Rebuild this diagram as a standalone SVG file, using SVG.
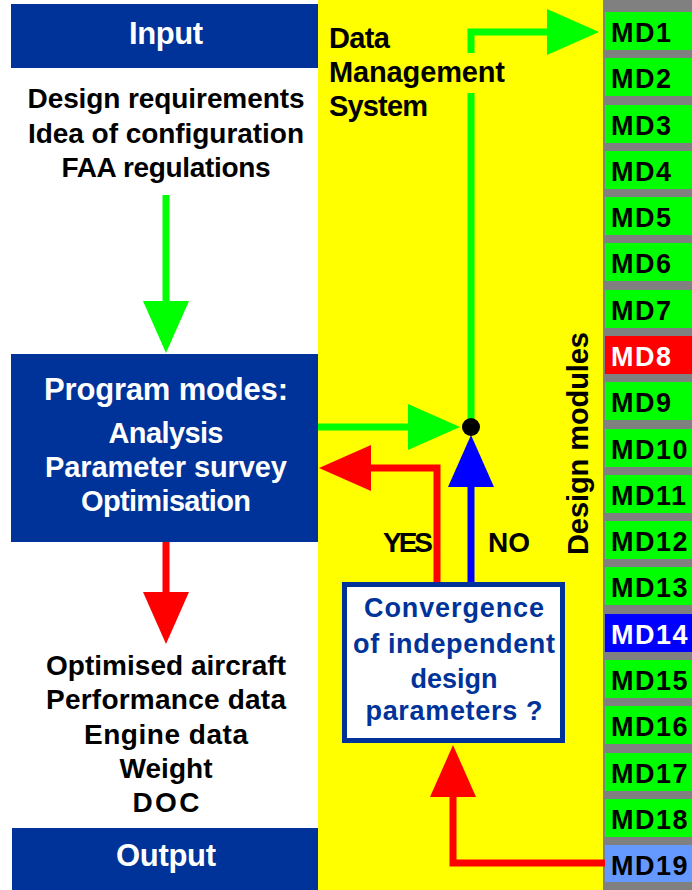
<svg xmlns="http://www.w3.org/2000/svg" width="692" height="890" viewBox="0 0 692 890">
<style>
  text { font-family: "Liberation Sans", Arial, sans-serif; font-weight: bold; }
  .title { font-size: 31px; fill: #ffffff; text-anchor: middle; }
  .sub { font-size: 29px; }
  .body { font-size: 28px; fill: #000000; text-anchor: middle; }
  .dms { font-size: 29px; fill: #000000; }
  .conv { font-size: 27px; fill: #003399; text-anchor: middle; }
  .md { font-size: 27px; letter-spacing: 1.5px; fill: #000000; }
  .mdw { fill: #ffffff; }
  .darkbox { fill: #003399; }
  .g { fill: none; stroke: #00ff00; stroke-width: 7; }
  .r { fill: none; stroke: #ff0000; stroke-width: 7; }
  .b { fill: none; stroke: #0000ff; stroke-width: 7; }
  .mod { fill: #00ff00; }
</style>
<defs>
  <marker id="ag" markerUnits="userSpaceOnUse" markerWidth="52" markerHeight="46" refX="0" refY="23" orient="auto" overflow="visible"><path d="M0,0 L52,23 L0,46 Z" fill="#00ff00"/></marker>
  <marker id="ar" markerUnits="userSpaceOnUse" markerWidth="52" markerHeight="46" refX="0" refY="23" orient="auto" overflow="visible"><path d="M0,0 L52,23 L0,46 Z" fill="#ff0000"/></marker>
  <marker id="ab" markerUnits="userSpaceOnUse" markerWidth="52" markerHeight="46" refX="0" refY="23" orient="auto" overflow="visible"><path d="M0,0 L52,23 L0,46 Z" fill="#0000ff"/></marker>
</defs>
<rect x="0" y="0" width="692" height="890" fill="#ffffff"/>
<rect x="318" y="0" width="285" height="890" fill="#ffff00"/>
<rect x="603" y="0" width="89" height="890" fill="#808080"/>

<g id="input">
  <rect class="darkbox" x="11" y="4" width="307" height="64"/>
  <text class="title" x="166" y="44" textLength="74">Input</text>
</g>
<g id="input-text">
  <text class="body" x="166" y="108" textLength="277">Design requirements</text>
  <text class="body" x="166" y="143" textLength="276">Idea of configuration</text>
  <text class="body" x="166" y="177" textLength="209">FAA regulations</text>
</g>
<g id="program-modes">
  <rect class="darkbox" x="11" y="354" width="307" height="188"/>
  <text class="title" x="166" y="400" textLength="244">Program modes:</text>
  <text class="title sub" x="166" y="443" textLength="115">Analysis</text>
  <text class="title sub" x="166" y="477" textLength="242">Parameter survey</text>
  <text class="title sub" x="166" y="511" textLength="170">Optimisation</text>
</g>
<g id="output-text">
  <text class="body" x="166" y="675" textLength="240">Optimised aircraft</text>
  <text class="body" x="166" y="709" textLength="240">Performance data</text>
  <text class="body" x="166" y="744" textLength="164">Engine data</text>
  <text class="body" x="166" y="778" textLength="93">Weight</text>
  <text class="body" x="166" y="812" textLength="67">DOC</text>
</g>
<g id="output">
  <rect class="darkbox" x="12" y="828" width="306" height="62"/>
  <text class="title" x="166" y="866" textLength="100">Output</text>
</g>
<g id="dms">
  <text class="dms" x="329" y="48" textLength="61">Data</text>
  <text class="dms" x="329" y="82" textLength="176">Management</text>
  <text class="dms" x="329" y="116" textLength="99">System</text>
</g>
<g id="design-modules-label">
  <text class="dms" transform="translate(588,555) rotate(-90)" x="0" y="0" textLength="223">Design modules</text>
</g>

<g id="connectors">
  <path class="g" d="M166,195 V301" marker-end="url(#ag)"/>
  <path class="r" d="M166,542 V592" marker-end="url(#ar)"/>
  <path class="g" d="M318,427 H408" marker-end="url(#ag)"/>
  <path class="g" d="M471,427 V93"/>
  <path class="g" d="M471,53 V32 H547" marker-end="url(#ag)"/>
  <path class="b" d="M471,582 V487" marker-end="url(#ab)"/>
  <path class="r" d="M437,582 V468 H371" marker-end="url(#ar)"/>
  <path class="r" d="M605,863 H453 V797" marker-end="url(#ar)"/>
  <circle cx="471" cy="427" r="9" fill="#000000"/>
  <text class="body" x="408" y="552" textLength="50">YES</text>
  <text class="body" x="509" y="552" textLength="42">NO</text>
</g>

<g id="convergence">
  <rect x="344.5" y="584.5" width="218" height="156" fill="#ffffff" stroke="#003399" stroke-width="5"/>
  <text class="conv" x="454" y="617" textLength="180">Convergence</text>
  <text class="conv" x="454" y="653" textLength="202">of independent</text>
  <text class="conv" x="454" y="688" textLength="87">design</text>
  <text class="conv" x="454" y="720" textLength="177">parameters ?</text>
</g>

<g id="md1"><rect class="mod" x="605" y="12" width="87" height="38"/><text class="md" x="611" y="42">MD1</text></g>
<g id="md2"><rect class="mod" x="605" y="58" width="87" height="38"/><text class="md" x="611" y="88">MD2</text></g>
<g id="md3"><rect class="mod" x="605" y="105" width="87" height="38"/><text class="md" x="611" y="135">MD3</text></g>
<g id="md4"><rect class="mod" x="605" y="151" width="87" height="38"/><text class="md" x="611" y="181">MD4</text></g>
<g id="md5"><rect class="mod" x="605" y="197" width="87" height="38"/><text class="md" x="611" y="227">MD5</text></g>
<g id="md6"><rect class="mod" x="605" y="243" width="87" height="38"/><text class="md" x="611" y="273">MD6</text></g>
<g id="md7"><rect class="mod" x="605" y="290" width="87" height="38"/><text class="md" x="611" y="320">MD7</text></g>
<g id="md8"><rect x="605" y="336" width="87" height="38" fill="#ff0000"/><text class="md mdw" x="611" y="366">MD8</text></g>
<g id="md9"><rect class="mod" x="605" y="382" width="87" height="38"/><text class="md" x="611" y="412">MD9</text></g>
<g id="md10"><rect class="mod" x="605" y="429" width="87" height="38"/><text class="md" x="611" y="459">MD10</text></g>
<g id="md11"><rect class="mod" x="605" y="475" width="87" height="38"/><text class="md" x="611" y="505">MD11</text></g>
<g id="md12"><rect class="mod" x="605" y="521" width="87" height="38"/><text class="md" x="611" y="551">MD12</text></g>
<g id="md13"><rect class="mod" x="605" y="567" width="87" height="38"/><text class="md" x="611" y="597">MD13</text></g>
<g id="md14"><rect x="605" y="614" width="87" height="38" fill="#0000ff"/><text class="md mdw" x="611" y="644">MD14</text></g>
<g id="md15"><rect class="mod" x="605" y="660" width="87" height="38"/><text class="md" x="611" y="690">MD15</text></g>
<g id="md16"><rect class="mod" x="605" y="706" width="87" height="38"/><text class="md" x="611" y="736">MD16</text></g>
<g id="md17"><rect class="mod" x="605" y="753" width="87" height="38"/><text class="md" x="611" y="783">MD17</text></g>
<g id="md18"><rect class="mod" x="605" y="799" width="87" height="38"/><text class="md" x="611" y="829">MD18</text></g>
<g id="md19"><rect x="605" y="845" width="87" height="37" fill="#6699ff"/><text class="md" x="611" y="875">MD19</text></g>
</svg>
